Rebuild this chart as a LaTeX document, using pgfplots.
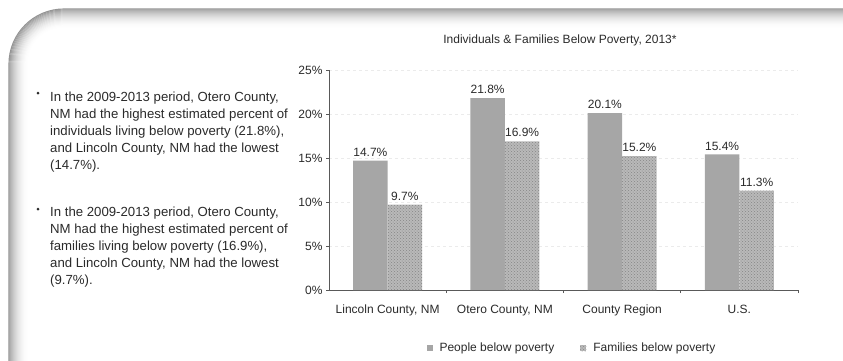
\documentclass[border=0pt]{standalone}
\usepackage{fontspec}
\setmainfont{Liberation Sans}
\usepackage{pgfplots}
\pgfplotsset{compat=1.18}
\usetikzlibrary{patterns}
\definecolor{people}{HTML}{A6A6A6}
\definecolor{families}{HTML}{B9B9B9}
\definecolor{hatch}{HTML}{858585}
\definecolor{txt}{HTML}{2A2A2A}
\newcommand{\cf}{\fontsize{12}{14}\selectfont}
\newcommand{\bfnt}{\fontsize{13.2}{16}\selectfont}
\begin{document}
\begin{tikzpicture}[x=1pt,y=1pt]
\path[use as bounding box] (0,0) rectangle (843,360);
% slide border
\foreach \i in {0,...,20}{
  \pgfmathsetmacro\d{42*(1-\i/20)^2}
  \draw[black!\d, line width=1.15pt, rounded corners=(55-\i)*1pt] (9+\i,-5) -- (9+\i,351-\i) -- (850,351-\i);
}
% bullets
\fill[txt] (38,267) circle (1.5);
\fill[txt] (38,151) circle (1.5);
\begin{scope}[every node/.style={anchor=base west, inner sep=0pt, font=\bfnt, text=txt}]
\node at (50,258.6) {In the 2009-2013 period, Otero County,};
\node at (50,241.6) {NM had the highest estimated percent of};
\node at (50,224.6) {individuals living below poverty (21.8\%),};
\node at (50,207.6) {and Lincoln County, NM had the lowest};
\node at (50,190.6) {(14.7\%).};
\node at (50,143.6) {In the 2009-2013 period, Otero County,};
\node at (50,126.6) {NM had the highest estimated percent of};
\node at (50,109.6) {families living below poverty (16.9\%),};
\node at (50,92.6) {and Lincoln County, NM had the lowest};
\node at (50,75.6) {(9.7\%).};
\end{scope}
\node[font=\cf, text=txt] at (560,320) {Individuals \& Families Below Poverty, 2013*};
\begin{axis}[
  at={(329pt,70pt)}, anchor=south west,
  scale only axis, width=469pt, height=220pt,
  xmin=-0.5, xmax=3.5, ymin=0, ymax=25,
  axis x line*=bottom, axis y line*=left,
  axis line style={-, black!65, line width=0.9pt},
  ybar=0pt, bar width=34.5pt,
  /pgf/number format/assume math mode=true,
  ytick={0,5,10,15,20,25},
  yticklabel={\pgfmathprintnumber{\tick}\%},
  xtick={0.5,1.5,2.5,3.5}, xticklabels={},
  extra x ticks={0,1,2,3},
  extra x tick labels={Lincoln County{,} NM, Otero County{,} NM, County Region, U.S.},
  extra x tick style={major tick length=0pt, tick label style={yshift=-11pt, text height=9pt, text depth=3pt}},
  tick align=outside, major tick length=3pt,
  tick style={black!65, line width=0.8pt},
  ymajorgrids, grid style={black!8, dashed},
  tick label style={font=\cf, text=txt},
  nodes near coords={\pgfmathprintnumber[fixed,fixed zerofill,precision=1]{\pgfplotspointmeta}\%},
  nodes near coords style={font=\cf, text=txt, inner sep=4pt},
  legend columns=2,
  legend style={draw=none, fill=none, at={(0.518,-0.264)}, anchor=center, font=\cf, text=txt,
    /tikz/every even column/.append style={column sep=24pt}},
  legend image code/.code={\path[#1, draw=none] (0pt,-3pt) rectangle (6pt,3pt);},
]
\addplot[fill=people, draw=none] coordinates {(0,14.7) (1,21.8) (2,20.1) (3,15.4)};
\addlegendentry{\hspace{5pt}People below poverty}
\addplot[fill=families, draw=none, postaction={pattern=crosshatch dots, pattern color=hatch}] coordinates {(0,9.7) (1,16.9) (2,15.2) (3,11.3)};
\addlegendentry{\hspace{5pt}Families below poverty}
\end{axis}
\end{tikzpicture}
\end{document}
